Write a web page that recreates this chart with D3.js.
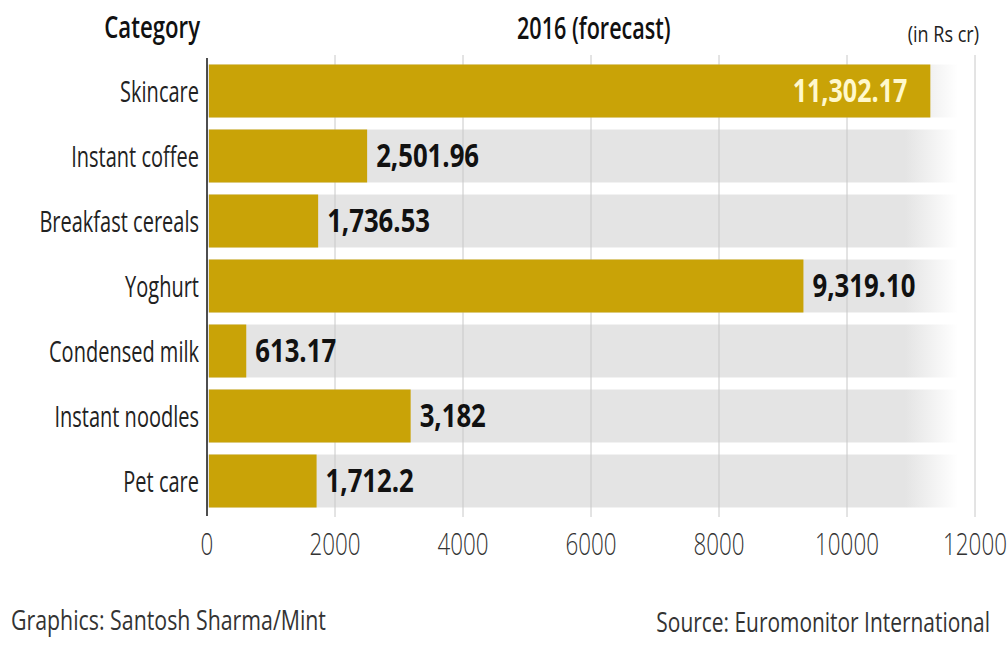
<!DOCTYPE html>
<html>
<head>
<meta charset="utf-8">
<script src="https://cdn.jsdelivr.net/npm/d3@7"></script>
<style>
  html, body { margin: 0; padding: 0; background: #fff; }
  svg { display: block; }
  text { font-family: "Open Sans", "DejaVu Sans", sans-serif; }
</style>
</head>
<body>
<svg id="chart" width="1008" height="645"></svg>
<script>
// Market size by category, 2016 forecast (in Rs crore)
const categories = ["Skincare", "Instant coffee", "Breakfast cereals", "Yoghurt",
                    "Condensed milk", "Instant noodles", "Pet care"];
const values = [11302.17, 2501.96, 1736.53, 9319.10, 613.17, 3182, 1712.2];
const valueLabels = ["11,302.17", "2,501.96", "1,736.53", "9,319.10", "613.17", "3,182", "1,712.2"];
const tickValues = [0, 2000, 4000, 6000, 8000, 10000, 12000];

const svg = d3.select("#chart");

const x = d3.scaleLinear().domain([0, 12000]).range([207, 975]);
const y = d3.scaleBand().domain(categories)
  .range([58.5, 513.5]).paddingInner(0.185).paddingOuter(0.0925);

const BAR = "#c9a307";

// fading grey track behind each bar
const defs = svg.append("defs");
const grad = defs.append("linearGradient").attr("id", "track")
  .attr("gradientUnits", "userSpaceOnUse")
  .attr("x1", 905).attr("x2", 958).attr("y1", 0).attr("y2", 0);
grad.append("stop").attr("offset", 0).attr("stop-color", "#e4e4e4");
grad.append("stop").attr("offset", 1).attr("stop-color", "#ffffff");

svg.append("g").selectAll("rect").data(categories).join("rect")
  .attr("x", x(0)).attr("y", d => y(d))
  .attr("width", 960 - x(0)).attr("height", y.bandwidth())
  .attr("fill", "url(#track)");

// vertical gridlines
svg.append("g").selectAll("line").data(tickValues.slice(1)).join("line")
  .attr("x1", d => x(d)).attr("x2", d => x(d))
  .attr("y1", 55).attr("y2", 517)
  .attr("stroke", "#c8c8c8").attr("stroke-width", 1);

// bars
svg.append("g").selectAll("rect").data(categories).join("rect")
  .attr("x", x(0) + 2).attr("y", d => y(d))
  .attr("width", (d, i) => x(values[i]) - x(0) - 2)
  .attr("height", y.bandwidth())
  .attr("fill", BAR);

// axis baseline at zero
svg.append("line")
  .attr("x1", x(0)).attr("x2", x(0)).attr("y1", 58).attr("y2", 516)
  .attr("stroke", "#222").attr("stroke-width", 1.6);

// helper: horizontally condensed text
function ctext(g, str, px, py, opts) {
  return g.append("g").attr("transform", `translate(${px},${py}) scale(${opts.sx},1)`)
    .append("text")
    .attr("text-anchor", opts.anchor || "start")
    .attr("font-size", opts.size)
    .attr("font-weight", opts.weight || 400)
    .attr("fill", opts.fill || "#222")
    .text(str);
}

// x-axis tick labels
const fmt = d3.format("d");
const tickG = svg.append("g");
tickValues.forEach(v => {
  ctext(tickG, fmt(v), x(v), 555, { sx: 0.7, size: 32, weight: 300, anchor: "middle", fill: "#333" });
});

// category labels
const catG = svg.append("g");
categories.forEach(c => {
  ctext(catG, c, 199, y(c) + y.bandwidth() / 2 + 10.5, { sx: 0.69, size: 29, anchor: "end", fill: "#222" });
});

// value labels
const valG = svg.append("g");
categories.forEach((c, i) => {
  const cy = y(c) + y.bandwidth() / 2 + 11;
  if (values[i] > 10000) {
    ctext(valG, valueLabels[i], x(values[i]) - 23, cy,
      { sx: 0.76, size: 33, weight: 700, anchor: "end", fill: "#fff8cc" });
  } else {
    ctext(valG, valueLabels[i], x(values[i]) + 9, cy,
      { sx: 0.78, size: 33, weight: 700, anchor: "start", fill: "#111" });
  }
});

// header
const head = svg.append("g");
ctext(head, "Category", 200, 38, { sx: 0.74, size: 30, weight: 600, anchor: "end", fill: "#111" });
ctext(head, "2016 (forecast)", 517, 39, { sx: 0.72, size: 30, weight: 600, anchor: "start", fill: "#111" });
ctext(head, "(in Rs cr)", 979, 42, { sx: 0.82, size: 22, anchor: "end", fill: "#222" });

// footer
const foot = svg.append("g");
ctext(foot, "Graphics: Santosh Sharma/Mint", 11, 630, { sx: 0.79, size: 27, anchor: "start", fill: "#333" });
ctext(foot, "Source: Euromonitor International", 990, 632, { sx: 0.775, size: 27, anchor: "end", fill: "#333" });
</script>
</body>
</html>
